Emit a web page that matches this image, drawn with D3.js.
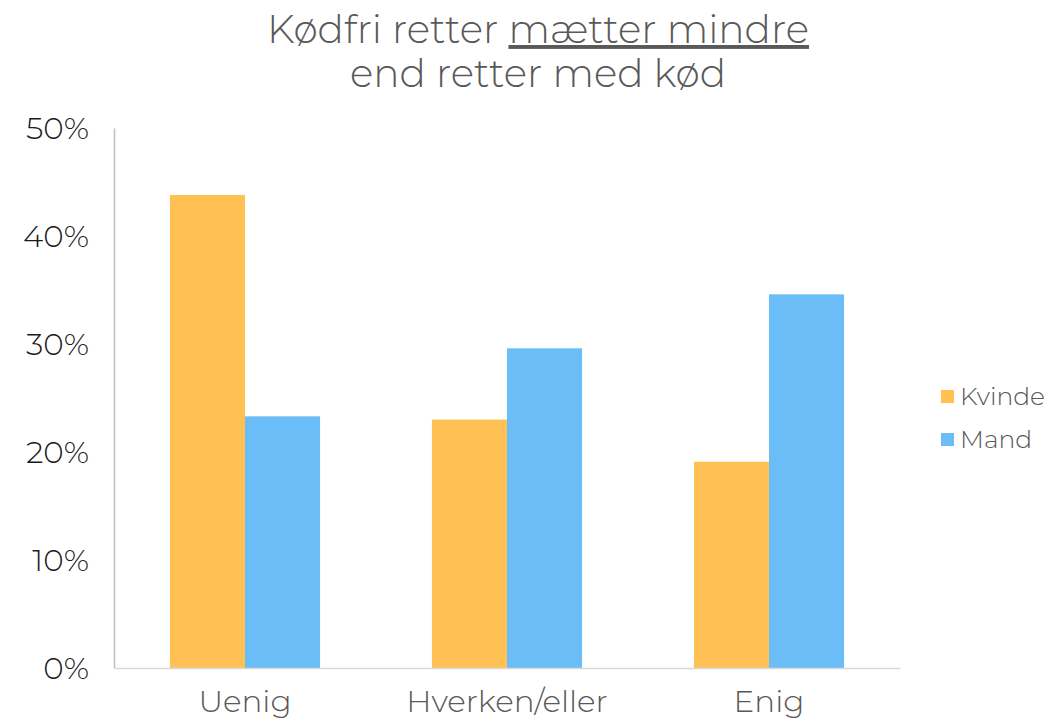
<!DOCTYPE html>
<html>
<head>
<meta charset="utf-8">
<script src="https://cdn.jsdelivr.net/npm/d3@7"></script>
<style>
  body { margin: 0; background: #fff; }
  svg text { font-family: "Montserrat", "Open Sans", sans-serif; font-weight: 300; }
</style>
</head>
<body>
<div id="chart"></div>
<script>
// data
const categories = ["Uenig", "Hverken/eller", "Enig"];
const series = ["Kvinde", "Mand"];
const kvinde = [43.8, 23.0, 19.1];
const mand = [23.3, 29.6, 34.6];
const yTicks = [0, 10, 20, 30, 40, 50];
const colors = ["#ffc154", "#6bbdf7"];

const width = 1053, height = 721;
const mLeft = 114, mRight = 900, mTop = 128, mBottom = 668;

const svg = d3.select("#chart").append("svg")
  .attr("width", width)
  .attr("height", height);

// title (two lines, second part of line 1 underlined)
const title = svg.append("text")
  .attr("text-anchor", "middle")
  .attr("fill", "#595959")
  .style("font-size", "39px");
title.append("tspan").attr("x", 538).attr("y", 43).text("Kødfri retter ");
title.append("tspan").style("text-decoration", "underline").text("mætter mindre");
svg.append("text")
  .attr("x", 538).attr("y", 87)
  .attr("text-anchor", "middle")
  .attr("fill", "#595959")
  .style("font-size", "39px")
  .text("end retter med kød");

// scales
const x = d3.scaleBand().domain(categories).range([mLeft, mRight])
  .paddingInner(0.427).paddingOuter(0.2135);
const xs = d3.scaleBand().domain(series).range([0, x.bandwidth()]);
const y = d3.scaleLinear().domain([0, 50]).range([mBottom, mTop]);

// bars
const rows = categories.map((c, i) => ({ cat: c, vals: [kvinde[i], mand[i]] }));
const groups = svg.append("g").selectAll("g")
  .data(rows).join("g")
  .attr("transform", d => `translate(${x(d.cat)},0)`);
groups.selectAll("rect")
  .data(d => d.vals.map((v, j) => ({ s: series[j], v: v, j: j })))
  .join("rect")
  .attr("x", d => xs(d.s))
  .attr("y", d => y(d.v))
  .attr("width", xs.bandwidth())
  .attr("height", d => y(0) - y(d.v))
  .attr("fill", d => colors[d.j]);

// y axis
const yAxis = svg.append("g")
  .attr("transform", `translate(${mLeft},0)`)
  .call(d3.axisLeft(y).tickValues(yTicks).tickFormat(d => d + "%").tickSize(0).tickPadding(25));
yAxis.select(".domain").attr("stroke", "#bfbfbf").attr("stroke-width", 1.5);
yAxis.selectAll("text")
  .attr("fill", "#1a1a1a")
  .attr("dy", "0.34em")
  .style("font-size", "31px");

// x axis
const xAxis = svg.append("g")
  .attr("transform", `translate(0,${mBottom})`)
  .call(d3.axisBottom(x).tickSize(0).tickPadding(22).tickSizeOuter(0));
xAxis.select(".domain").attr("stroke", "#d9d9d9").attr("stroke-width", 1.5);
xAxis.selectAll("text")
  .attr("fill", "#595959")
  .style("font-size", "31px");

// legend
const legend = svg.append("g").selectAll("g")
  .data(series).join("g")
  .attr("transform", (d, i) => `translate(941,${390 + i * 43})`);
legend.append("rect")
  .attr("width", 13).attr("height", 13)
  .attr("fill", (d, i) => colors[i]);
legend.append("text")
  .attr("x", 19).attr("y", 15)
  .attr("fill", "#595959")
  .style("font-size", "25px")
  .text(d => d);
</script>
</body>
</html>
